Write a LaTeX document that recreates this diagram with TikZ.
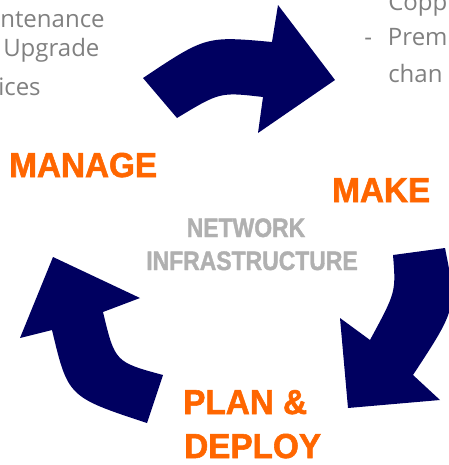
\documentclass[tikz,border=0pt]{standalone}
\usepackage{fontspec}
\usepackage{tikz}
\newfontfamily\listfont{Open Sans}
\newfontfamily\headfont{Liberation Sans}[BoldFeatures={FakeBold=1.6}]
\definecolor{arrownavy}{RGB}{0,0,96}
\definecolor{steporange}{RGB}{255,102,0}
\definecolor{listgray}{RGB}{128,128,128}
\definecolor{hubgray}{RGB}{176,176,176}

\begin{document}
\begin{tikzpicture}[x=0.75pt,y=0.75pt,yscale=-1,xscale=1,
  cyclearrow/.style={fill=arrownavy,draw=none},
  steplabel/.style={anchor=base west,inner sep=0pt,text depth=0pt,text=steporange,font=\headfont\bfseries\fontsize{26}{30}\selectfont,xscale=0.96},
  hubtext/.style={anchor=base,inner sep=0pt,text=hubgray,font=\headfont\bfseries\fontsize{20}{24}\selectfont,xscale=0.86},
  listtext/.style={anchor=base west,inner sep=0pt,text=listgray,font=\listfont\fontsize{18}{22}\selectfont}]
%set diagram size 449 x 465
\useasboundingbox (0,0) rectangle (449,465);
\clip (0,0) rectangle (449,465);

%Shape: Curved Arrow [id:top]
\fill[cyclearrow] (143,78) .. controls (206,36) .. (272,42) -- (278,5) -- (335,80) -- (258,133) -- (263,97) .. controls (220,92) .. (177,118) -- cycle ;
%Shape: Curved Arrow [id:right]
\fill[cyclearrow] (393,255) -- (445,248) .. controls (457,308) .. (413,375) -- (440,400) -- (348,408) -- (340,318) -- (370,340) .. controls (396,292) .. (393,255) -- cycle ;
%Shape: Curved Arrow [id:left]
\fill[cyclearrow] (163,375) -- (147,423) .. controls (68,397) .. (52,330) -- (20,338) -- (53,257) -- (140,298) -- (103,312) .. controls (115,362) .. (163,375) -- cycle ;

% Text Node
\node[steplabel] (manage) at (9,177) {MANAGE};
% Text Node
\node[steplabel] (make) at (332,202) {MAKE};
% Text Node
\node[steplabel] (plan) at (183,414) {PLAN \&};
% Text Node
\node[steplabel] (deploy) at (184,458) {DEPLOY};

% Text Node
\node[hubtext] (hubtop) at (246,237) {NETWORK};
% Text Node
\node[hubtext] (hubbottom) at (252,270) {INFRASTRUCTURE};

% Text Node
\node[listtext] (maint) at (0,27) {ntenance};
% Text Node
\node[listtext] (upgrade) at (3,56) {Upgrade};
% Text Node
\node[listtext] (serv) at (-2,95) {ices};
% Text Node
\node[listtext] (copp) at (388,10) {Copp};
% Text Node
\node[listtext] (prem) at (364,45) {-\hspace{12pt}Prem};
% Text Node
\node[listtext] (chan) at (388,82) {chan};

\end{tikzpicture}
\end{document}
